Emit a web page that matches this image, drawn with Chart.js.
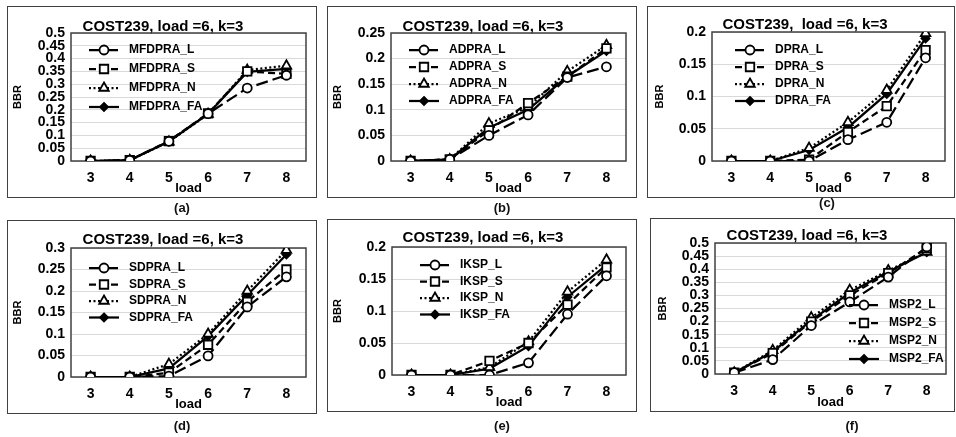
<!DOCTYPE html>
<html>
<head>
<meta charset="utf-8">
<script src="https://cdn.jsdelivr.net/npm/chart.js@4.4.0/dist/chart.umd.min.js"></script>
<style>
  html, body { margin: 0; padding: 0; background: #fff; }
  body { width: 956px; height: 437px; position: relative; overflow: hidden; }
  canvas { position: absolute; }
  .frame { position: absolute; box-sizing: border-box; border: 1.5px solid #404040; pointer-events: none; }
  .cap { position: absolute; font: bold 13px "Liberation Sans", Arial, sans-serif; color: #111; transform: translate(-50%, -50%); white-space: nowrap; }
</style>
</head>
<body>
<script>
// x categories (traffic load)
const loads = ['3', '4', '5', '6', '7', '8'];

// BBR per algorithm and cost function
const mfdpraL  = [0, 0.003, 0.077, 0.185, 0.285, 0.335];
const mfdpraS  = [0, 0.003, 0.078, 0.186, 0.350, 0.340];
const mfdpraN  = [0, 0.003, 0.075, 0.183, 0.355, 0.372];
const mfdpraFA = [0, 0.003, 0.076, 0.184, 0.348, 0.360];

const adpraL  = [0, 0.003, 0.050, 0.090, 0.163, 0.184];
const adpraS  = [0, 0.003, 0.060, 0.113, 0.165, 0.220];
const adpraN  = [0, 0.003, 0.073, 0.105, 0.175, 0.226];
const adpraFA = [0, 0.003, 0.065, 0.100, 0.165, 0.215];

const dpraL  = [0, 0, 0,     0.033, 0.060, 0.160];
const dpraS  = [0, 0, 0.002, 0.045, 0.085, 0.172];
const dpraN  = [0, 0, 0.020, 0.060, 0.110, 0.198];
const dpraFA = [0, 0, 0.017, 0.052, 0.104, 0.190];

const sdpraL  = [0, 0, 0.002, 0.049, 0.163, 0.233];
const sdpraS  = [0, 0, 0.010, 0.075, 0.175, 0.250];
const sdpraN  = [0, 0, 0.030, 0.100, 0.200, 0.295];
const sdpraFA = [0, 0, 0.020, 0.095, 0.190, 0.285];

const ikspL  = [0, 0, 0,     0.019, 0.095, 0.155];
const ikspS  = [0, 0, 0.022, 0.050, 0.110, 0.168];
const ikspN  = [0, 0, 0.012, 0.052, 0.130, 0.180];
const ikspFA = [0, 0, 0.010, 0.045, 0.122, 0.172];

const msp2L  = [0.005, 0.055, 0.185, 0.275, 0.370, 0.485];
const msp2S  = [0.005, 0.080, 0.200, 0.300, 0.385, 0.480];
const msp2N  = [0.005, 0.090, 0.215, 0.320, 0.395, 0.465];
const msp2FA = [0.005, 0.085, 0.205, 0.310, 0.390, 0.465];

// y-axis ranges (max, step)
const bbrMax  = [0.5, 0.25, 0.2, 0.3, 0.2, 0.5];
const bbrStep = [0.05, 0.05, 0.05, 0.05, 0.05, 0.05];

const titles = [
  'COST239, load =6, k=3',
  'COST239, load =6, k=3',
  'COST239,  load =6, k=3',
  'COST239, load =6, k=3',
  'COST239, load =6, k=3',
  'COST239, load =6, k=3'
];
const captions = ['(a)', '(b)', '(c)', '(d)', '(e)', '(f)'];
const suffixes = ['_L', '_S', '_N', '_FA'];
const algos = ['MFDPRA', 'ADPRA', 'DPRA', 'SDPRA', 'IKSP', 'MSP2'];
const series = [
  [mfdpraL, mfdpraS, mfdpraN, mfdpraFA],
  [adpraL, adpraS, adpraN, adpraFA],
  [dpraL, dpraS, dpraN, dpraFA],
  [sdpraL, sdpraS, sdpraN, sdpraFA],
  [ikspL, ikspS, ikspN, ikspFA],
  [msp2L, msp2S, msp2N, msp2FA]
];

const FONT = '"Liberation Sans", Arial, sans-serif';

// line / marker style of each cost function
const styles = [
  { dash: [12, 5],  point: 'circle',   radius: 4.5, fill: '#fff' },
  { dash: [7, 4],   point: 'rect',     radius: 6,   fill: '#fff' },
  { dash: [2, 2.5], point: 'triangle', radius: 5.5, fill: '#fff' },
  { dash: [],       point: 'rectRot',  radius: 4,   fill: '#000' }
];

// page geometry of each panel: frame box, plot rectangle, title centre, BBR x, caption, legend
const layouts = [
  { box: [7, 6, 310, 192],   plot: [71, 33, 306, 161],   title: [163, 27],   bbrX: 18,  cap: [182, 207], legend: { x: 18, y: 17, gap: 19 } },
  { box: [327, 6, 310, 192], plot: [391, 33, 626, 161],  title: [483, 27],   bbrX: 338, cap: [502, 207], legend: { x: 18, y: 17, gap: 17 } },
  { box: [647, 6, 308, 192], plot: [712, 32, 945, 161],  title: [805, 25],   bbrX: 660, cap: [827, 202], legend: { x: 23, y: 18, gap: 17 } },
  { box: [7, 220, 310, 194], plot: [71, 248, 306, 377],  title: [163, 240],  bbrX: 18,  cap: [182, 425], legend: { x: 18, y: 20, gap: 16.5 } },
  { box: [327, 219, 310, 193], plot: [392, 247, 626, 375], title: [483, 238], bbrX: 338, cap: [502, 425], legend: { x: 28, y: 18, gap: 16.5 } },
  { box: [650, 218, 305, 194], plot: [715, 243, 946, 374], title: [807, 236], bbrX: 663, cap: [852, 425], legend: { x: 134, y: 62, gap: 18 } }
];

function drawMarker(ctx, style, x, y, r, fill) {
  ctx.beginPath();
  if (style === 'circle') {
    ctx.arc(x, y, r, 0, Math.PI * 2);
  } else if (style === 'rect') {
    const s = r * Math.SQRT1_2;
    ctx.rect(x - s, y - s, 2 * s, 2 * s);
  } else if (style === 'triangle') {
    for (let k = 0; k < 3; k++) {
      const a = k * 2 * Math.PI / 3;
      const px = x + Math.sin(a) * r, py = y - Math.cos(a) * r;
      if (k === 0) ctx.moveTo(px, py); else ctx.lineTo(px, py);
    }
    ctx.closePath();
  } else {
    ctx.moveTo(x, y - r); ctx.lineTo(x + r, y); ctx.lineTo(x, y + r); ctx.lineTo(x - r, y);
    ctx.closePath();
  }
  ctx.fillStyle = fill;
  ctx.fill();
  ctx.lineWidth = 1.8;
  ctx.strokeStyle = '#000';
  ctx.stroke();
}

// dark border round the plot rectangle
const plotFrame = {
  id: 'plotFrame',
  beforeDatasetsDraw(chart) {
    const { ctx, chartArea: a } = chart;
    ctx.save();
    ctx.strokeStyle = '#404040';
    ctx.lineWidth = 1.5;
    ctx.strokeRect(a.left, a.top, a.right - a.left, a.bottom - a.top);
    ctx.restore();
  }
};

// legend rows with a line sample and its marker, like a spreadsheet legend
const lineLegend = {
  id: 'lineLegend',
  afterDatasetsDraw(chart, args, o) {
    const { ctx, chartArea: a } = chart;
    chart.data.datasets.forEach((ds, i) => {
      const y = a.top + o.y + i * o.gap;
      const x0 = a.left + o.x, x1 = x0 + 30;
      ctx.save();
      ctx.strokeStyle = '#000';
      ctx.lineWidth = ds.borderWidth;
      ctx.setLineDash(ds.borderDash);
      ctx.beginPath();
      ctx.moveTo(x0, y);
      ctx.lineTo(x1, y);
      ctx.stroke();
      ctx.setLineDash([]);
      drawMarker(ctx, ds.pointStyle, (x0 + x1) / 2, y, ds.pointRadius, ds.pointBackgroundColor);
      ctx.fillStyle = '#000';
      ctx.font = 'bold 12px ' + FONT;
      ctx.textBaseline = 'middle';
      ctx.textAlign = 'left';
      ctx.fillText(ds.label, x1 + 10, y);
      ctx.restore();
    });
  }
};

const fmt = v => String(parseFloat(Number(v).toFixed(2)));

layouts.forEach((L, p) => {
  const [bx, by, bw, bh] = L.box;
  const cv = document.createElement('canvas');
  cv.width = bw; cv.height = bh;
  cv.style.left = bx + 'px'; cv.style.top = by + 'px';
  cv.style.width = bw + 'px'; cv.style.height = bh + 'px';
  document.body.appendChild(cv);

  const fr = document.createElement('div');
  fr.className = 'frame';
  fr.style.left = bx + 'px'; fr.style.top = by + 'px';
  fr.style.width = bw + 'px'; fr.style.height = bh + 'px';
  document.body.appendChild(fr);

  const cap = document.createElement('div');
  cap.className = 'cap';
  cap.textContent = captions[p];
  cap.style.left = L.cap[0] + 'px'; cap.style.top = L.cap[1] + 'px';
  document.body.appendChild(cap);

  // plot rectangle in canvas coordinates
  const pl = L.plot[0] - bx, pt = L.plot[1] - by;
  const pr = bw - (L.plot[2] - bx), xH = bh - (L.plot[3] - by);
  const tx = L.title[0] - bx, ty = L.title[1] - by;
  const padLeft = 2 * tx - (bw - pr);
  const yW = pl - padLeft;
  const titleLH = 18;
  const bbrPad = (L.bbrX - bx) - padLeft - 6.6;

  const datasets = series[p].map((d, i) => ({
    label: algos[p] + suffixes[i],
    data: d,
    borderColor: '#000',
    borderWidth: 2.25,
    borderDash: styles[i].dash,
    pointStyle: styles[i].point,
    pointRadius: styles[i].radius,
    pointHoverRadius: styles[i].radius,
    pointBackgroundColor: styles[i].fill,
    pointBorderColor: '#000',
    pointBorderWidth: 1.8,
    tension: 0,
    fill: false
  }));

  new Chart(cv, {
    type: 'line',
    data: { labels: loads, datasets },
    options: {
      responsive: false,
      animation: false,
      events: [],
      layout: { padding: { left: padLeft, right: pr, top: 0, bottom: 0 } },
      plugins: {
        legend: { display: false },
        tooltip: { enabled: false },
        title: {
          display: true,
          text: titles[p],
          color: '#000',
          font: { family: FONT, size: 15, weight: 'bold', lineHeight: titleLH / 15 },
          padding: { top: ty - titleLH / 2, bottom: pt - ty - titleLH / 2 }
        },
        lineLegend: L.legend
      },
      scales: {
        x: {
          type: 'category',
          offset: true,
          grid: { display: false, drawTicks: false },
          border: { display: false },
          ticks: { color: '#000', font: { family: FONT, size: 14, weight: 'bold', lineHeight: 1.2 }, padding: 9, maxRotation: 0, autoSkip: false },
          title: { display: true, text: 'load', color: '#000', font: { family: FONT, size: 13, weight: 'bold', lineHeight: 1.2 }, padding: { top: 0, bottom: 2 } },
          afterFit(s) { s.height = xH; }
        },
        y: {
          min: 0,
          max: bbrMax[p],
          grid: { color: '#d9d9d9', lineWidth: 1, drawTicks: false },
          border: { display: false },
          ticks: { stepSize: bbrStep[p], autoSkip: false, padding: 6, color: '#000', font: { family: FONT, size: 14, weight: 'bold', lineHeight: 1.0 }, callback: v => fmt(v) },
          title: { display: true, text: 'BBR', color: '#000', font: { family: FONT, size: 11, weight: 'bold', lineHeight: 1.2 }, padding: { top: bbrPad, bottom: 0 } },
          afterFit(s) { s.width = yW; }
        }
      }
    },
    plugins: [plotFrame, lineLegend]
  });
});
</script>
</body>
</html>
